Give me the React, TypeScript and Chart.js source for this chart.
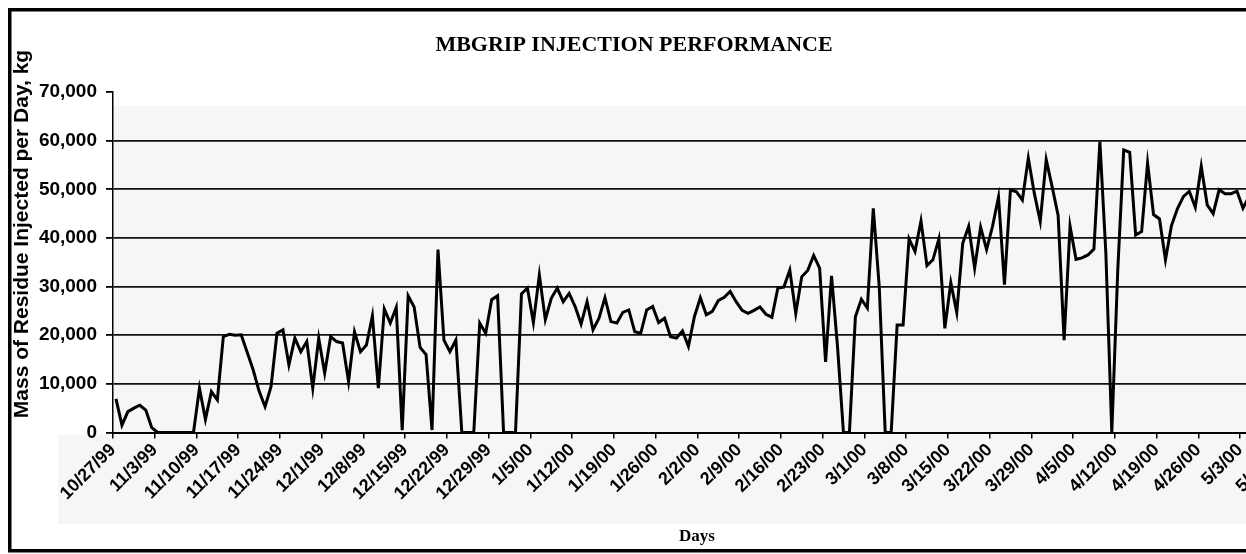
import { useEffect, useRef } from 'react';
import { Chart, registerables } from 'chart.js';

Chart.register(...registerables);

// Weekly tick labels on the category (day) axis
const tickLabels = [
  '10/27/99', '11/3/99', '11/10/99', '11/17/99', '11/24/99', '12/1/99', '12/8/99', '12/15/99',
  '12/22/99', '12/29/99', '1/5/00', '1/12/00', '1/19/00', '1/26/00', '2/2/00', '2/9/00',
  '2/16/00', '2/23/00', '3/1/00', '3/8/00', '3/15/00', '3/22/00', '3/29/00', '4/5/00',
  '4/12/00', '4/19/00', '4/26/00', '5/3/00', '5/10/00',
];

// Daily mass of residue injected (kg), 10/27/99 .. 5/10/00
const oct99 = [6900, 1500, 4300, 5000, 5600];
const nov99 = [
  4600, 1000, 0, 0, 0, 0, 0, 0, 0, 9100, 2700, 8400, 6700, 19700, 20200,
  20000, 20100, 16500, 12900, 8500, 5300, 9400, 20400, 21100, 13900, 19400, 16600, 18700, 9100, 19400,
];
const dec99 = [
  12200, 19700, 18700, 18400, 10500, 20700, 16600, 18000, 24000, 9100, 25400, 22500, 25700, 500, 28100,
  25800, 17500, 16000, 500, 37600, 19000, 16600, 19000, 0, 0, 0, 22500, 20400, 27300, 28100, 0,
];
const jan00 = [
  0, 0, 28500, 29700, 22600, 32400, 23200, 27600, 29700, 26900, 28600, 25900, 22300, 26900, 21100,
  23500, 27700, 22800, 22500, 24700, 25200, 20700, 20400, 25200, 25900, 22600, 23500, 19700, 19400, 20900, 17700,
];
const feb00 = [
  23800, 27700, 24200, 24900, 27100, 27800, 29000, 26900, 25100, 24500, 25100, 25800, 24300, 23700, 29700,
  29900, 33400, 24500, 32000, 33300, 36400, 33800, 14500, 32200, 17700, 0, 0, 23800, 27400,
];
const mar00 = [
  25600, 46100, 30000, 0, 0, 22100, 22100, 39800, 37200, 43500, 34300, 35500, 39800, 21400, 30800,
  24700, 38900, 42400, 33800, 42200, 37600, 42400, 48400, 30400, 49900, 49500, 47800, 56400, 49200, 43400, 56100,
];
const apr00 = [
  50500, 44600, 19000, 42400, 35600, 35900, 36500, 37700, 59800, 37000, 0, 33400, 58100, 57600, 40600,
  41300, 55400, 44800, 43900, 35500, 42500, 46000, 48500, 49600, 46300, 54700, 46800, 45000, 49900, 49100,
];
const may00 = [49100, 49600, 46100, 48500, 48000, 47000, 48500, 49000, 47500, 48000];

const W = 1320;
const H = 546;

const decor = {
  id: 'decor',
  beforeDraw(chart: any) {
    const { ctx, chartArea: a } = chart;
    ctx.save();
    ctx.fillStyle = '#f6f6f6';
    ctx.fillRect(a.left, a.top + 14, a.right - a.left, a.bottom - a.top - 14);
    ctx.fillRect(50, a.bottom + 2, W - 50, 516 - a.bottom - 2);
    ctx.restore();
  },
  afterDraw(chart: any) {
    const { ctx } = chart;
    ctx.save();
    // frame
    ctx.strokeStyle = '#000';
    ctx.lineWidth = 3.5;
    ctx.strokeRect(1.75, 1.75, W + 20, H - 5);
    // title
    ctx.fillStyle = '#000';
    ctx.textAlign = 'center';
    ctx.textBaseline = 'middle';
    ctx.font = 'bold 22px "Liberation Serif", serif';
    ctx.fillText('MBGRIP INJECTION PERFORMANCE', 626, 37);
    // x title
    ctx.font = 'bold 17px "Liberation Serif", serif';
    ctx.fillText('Days', 689, 529);
    // y title
    const yTitle = 'Mass of Residue Injected per Day, kg';
    ctx.font = 'bold 18px "Liberation Sans", Arial, sans-serif';
    const w = ctx.measureText(yTitle).width;
    const size = (18 * 368) / w;
    ctx.font = `bold ${size.toFixed(1)}px "Liberation Sans", Arial, sans-serif`;
    ctx.translate(14, 226);
    ctx.rotate(-Math.PI / 2);
    ctx.fillText(yTitle, 0, 0);
    ctx.restore();
  },
};

export default function App() {
  const ref = useRef<HTMLCanvasElement>(null);

  useEffect(() => {
    const canvas = ref.current;
    if (!canvas) return;
    const values = [...oct99, ...nov99, ...dec99, ...jan00, ...feb00, ...mar00, ...apr00, ...may00];
    const points = values.map((v, i) => ({ x: i, y: v }));
    const lastDay = values.length - 1;

    const chart = new Chart(canvas, {
      type: 'line',
      data: {
        datasets: [
          {
            data: points,
            borderColor: '#000',
            borderWidth: 3,
            pointRadius: 0,
            tension: 0,
            fill: false,
          },
        ],
      },
      options: {
        responsive: false,
        animation: false,
        devicePixelRatio: 1,
        layout: { padding: { top: 84, right: W - 105 - (lastDay + 1) * 5.963, bottom: 0, left: 0 } },
        plugins: { legend: { display: false }, title: { display: false }, tooltip: { enabled: false } },
        scales: {
          x: {
            type: 'linear',
            min: -0.5,
            max: lastDay + 0.5,
            afterBuildTicks: (s: any) => {
              s.ticks = tickLabels.map((_, i) => ({ value: i * 7 - 0.5 }));
            },
            afterFit: (s: any) => {
              s.height = H - 424.5;
            },
            ticks: {
              autoSkip: false,
              minRotation: 45,
              maxRotation: 45,
              padding: 1,
              color: '#000',
              font: { family: '"Liberation Sans", Arial, sans-serif', size: 18, weight: 'bold' },
              callback: (_v: any, i: number) => tickLabels[i],
            },
            grid: { drawOnChartArea: false, drawTicks: true, tickLength: 6, color: '#000', lineWidth: 1.5 },
            border: { display: true, color: '#000', width: 2 },
          },
          y: {
            min: 0,
            max: 70000,
            afterFit: (s: any) => {
              s.width = 105;
            },
            ticks: {
              stepSize: 10000,
              padding: 9,
              color: '#000',
              font: { family: '"Liberation Sans", Arial, sans-serif', size: 19, weight: 'bold' },
              callback: (v: any) => Number(v).toLocaleString('en-US'),
            },
            grid: {
              color: (c: any) => (c.tick && (c.tick.value === 70000 || c.tick.value === 0) ? 'rgba(0,0,0,0)' : '#111'),
              lineWidth: 1.8,
              tickColor: '#000',
              tickLength: 7,
            },
            border: { display: true, color: '#000', width: 1.5 },
          },
        },
      },
      plugins: [decor],
    } as any);

    return () => chart.destroy();
  }, []);

  return (
    <div style={{ position: 'fixed', left: 8, top: 8, width: 1238, height: H, overflow: 'hidden' }}>
      <canvas ref={ref} width={W} height={H} style={{ width: W, height: H, display: 'block' }} />
    </div>
  );
}
